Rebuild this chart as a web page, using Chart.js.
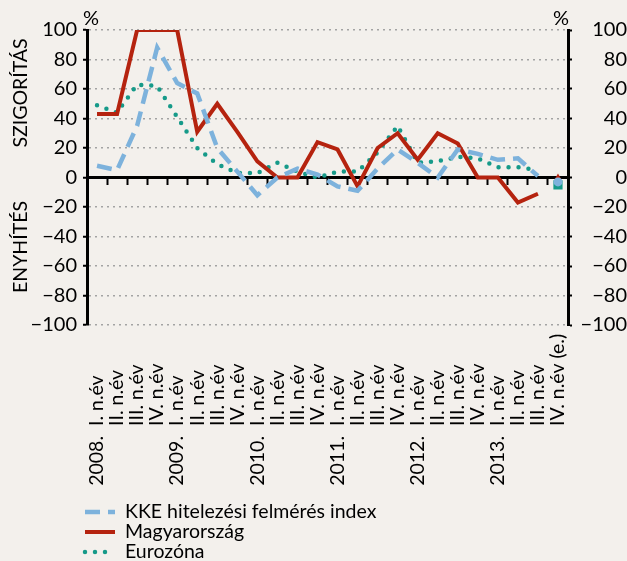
<!DOCTYPE html>
<html>
<head>
<meta charset="utf-8">
<script src="https://cdn.jsdelivr.net/npm/chart.js@4.4.1/dist/chart.umd.min.js"></script>
<style>
  html, body { margin: 0; padding: 0; background: #f3f0ec; }
  #wrap { width: 627px; height: 561px; }
</style>
</head>
<body>
<div id="wrap"><canvas id="chart" width="627" height="561"></canvas></div>
<script>
const FONT = "Lato, 'Open Sans', sans-serif";

const yearLabels = [
  '2008.', '', '', '', '2009.', '', '', '', '2010.', '', '', '',
  '2011.', '', '', '', '2012.', '', '', '', '2013.', '', '', '',
];
const quarterLabels = [
  'I. n.év', 'II. n.év', 'III. n.év', 'IV. n.év',
  'I. n.év', 'II. n.év', 'III. n.év', 'IV. n.év',
  'I. n.év', 'II. n.év', 'III. n.év', 'IV. n.év',
  'I. n.év', 'II. n.év', 'III. n.év', 'IV. n.év',
  'I. n.év', 'II. n.év', 'III. n.év', 'IV. n.év',
  'I. n.év', 'II. n.év', 'III. n.év', 'IV. n.év (e.)',
];

// last value is the estimate (drawn as a lone marker)
const kkeIndex = [8, 5, 35, 88, 64, 57, 20, 4, -12, 0, 6, 2, -6, -9, 6, 19, 10, 0, 19, 16, 12, 13, 1, -3];
const hungary = [43, 43, 100, 100, 100, 31, 50, 31, 11, 0, 0, 24, 19, -6, 20, 30, 12, 30, 23, 0, 0, -17, -11, 0];
const eurozone = [49, 44, 63, 62, 41, 20, 9, 3, 3, 10, 4, 0, 4, 4, 17, 35, 10, 11, 14, 13, 7, 7, 5, -5];

const yTickValues = [-100, -80, -60, -40, -20, 0, 20, 40, 60, 80, 100];

const blue = '#7db2dc';
const red = '#b5230f';
const teal = '#169a89';
const lastIdx = quarterLabels.length - 1;

const fmt = (v) => (v < 0 ? `\u2212${Math.abs(v)}` : `${v}`);
const onlyLast = (r) => quarterLabels.map((_, i) => (i === lastIdx ? r : 0));
const hideLastSegment = { borderColor: (c) => (c.p1DataIndex === lastIdx ? 'transparent' : undefined) };

Chart.defaults.font.family = FONT;
Chart.defaults.color = '#000';

const texts = {
  id: 'texts',
  afterDraw(chart) {
    const { ctx, chartArea, scales } = chart;
    const xs = scales.x;
    ctx.save();
    ctx.fillStyle = '#000';
    ctx.textBaseline = 'middle';

    // category labels, rotated
    ctx.font = `19.5px ${FONT}`;
    quarterLabels.forEach((q, i) => {
      const px = xs.getPixelForValue(i);
      ctx.save();
      ctx.translate(px, chartArea.bottom + 101);
      ctx.rotate(-Math.PI / 2);
      ctx.textAlign = 'left';
      ctx.fillText(q, 0, 0);
      if (yearLabels[i]) {
        ctx.textAlign = 'right';
        ctx.fillText(yearLabels[i], -10, 0);
      }
      ctx.restore();
    });

    // axis titles
    ctx.font = `19.5px ${FONT}`;
    ctx.textAlign = 'center';
    [['SZIGORÍTÁS', 93], ['ENYHÍTÉS', 247]].forEach(([t, y]) => {
      ctx.save();
      ctx.translate(21, y);
      ctx.rotate(-Math.PI / 2);
      ctx.fillText(t, 0, 0);
      ctx.restore();
    });
    ctx.font = `20px ${FONT}`;
    ctx.fillText('%', chartArea.left + 4, 19);
    ctx.fillText('%', chartArea.right - 7, 19);

    // legend
    ctx.font = `19.5px ${FONT}`;
    const rows = [512, 532, 552];
    chart.data.datasets.forEach((ds, i) => {
      const y = rows[i];
      ctx.save();
      ctx.beginPath();
      ctx.strokeStyle = ds.borderColor;
      ctx.lineWidth = ds.borderWidth;
      ctx.lineCap = ds.borderCapStyle || 'butt';
      ctx.setLineDash(ds.borderDash || []);
      ctx.moveTo(85, y);
      ctx.lineTo(i === 2 ? 110 : 115, y);
      ctx.stroke();
      ctx.restore();
      ctx.textAlign = 'left';
      ctx.fillText(ds.label, 125, y);
    });
    ctx.restore();
  },
};

new Chart(document.getElementById('chart'), {
  type: 'line',
  data: {
    labels: quarterLabels,
    datasets: [
      {
        label: 'KKE hitelezési felmérés index',
        data: kkeIndex,
        borderColor: blue,
        backgroundColor: blue,
        borderWidth: 4.5,
        borderDash: [15, 8],
        pointStyle: 'circle',
        pointRadius: onlyLast(4.5),
        pointBorderWidth: 0,
        segment: hideLastSegment,
      },
      {
        label: 'Magyarország',
        data: hungary,
        borderColor: red,
        backgroundColor: red,
        borderWidth: 4,
        pointStyle: 'triangle',
        pointRadius: onlyLast(4),
        pointBorderWidth: 0,
        segment: hideLastSegment,
      },
      {
        label: 'Eurozóna',
        data: eurozone,
        borderColor: teal,
        backgroundColor: teal,
        borderWidth: 4.5,
        borderDash: [0, 10],
        borderCapStyle: 'round',
        pointStyle: 'rect',
        pointRadius: onlyLast(6.5),
        pointBorderWidth: 0,
        segment: hideLastSegment,
      },
    ],
  },
  options: {
    responsive: false,
    animation: false,
    layout: { padding: { top: 30, bottom: 236, left: 0, right: 0 } },
    elements: { line: { tension: 0 } },
    plugins: { legend: { display: false }, tooltip: { enabled: false } },
    scales: {
      x: {
        type: 'category',
        position: { y: 0 },
        offset: true,
        grid: {
          offset: true, drawOnChartArea: false, drawTicks: true,
          tickLength: 6, tickWidth: 2, tickColor: '#000',
        },
        border: { display: true, color: '#000', width: 3 },
        ticks: { display: false },
        afterFit: (s) => { s.height = 0; },
      },
      y: {
        position: 'left',
        min: -100,
        max: 100,
        afterBuildTicks: (s) => { s.ticks = yTickValues.map((v) => ({ value: v })); },
        ticks: { callback: fmt, font: { size: 20 }, padding: 6 },
        grid: {
          color: (c) => (c.tick && c.tick.value === 0 ? 'transparent' : '#a3a3a3'),
          lineWidth: 1.5, tickColor: '#000', tickLength: 4, tickWidth: 2,
        },
        border: { color: '#000', width: 3, dash: [2, 4] },
        afterFit: (s) => { s.width = 87; },
      },
      y2: {
        position: 'right',
        min: -100,
        max: 100,
        afterBuildTicks: (s) => { s.ticks = yTickValues.map((v) => ({ value: v })); },
        ticks: { callback: fmt, font: { size: 20 }, padding: 5, crossAlign: 'far' },
        grid: { drawOnChartArea: false, tickColor: '#000', tickLength: 4, tickWidth: 2 },
        border: { color: '#000', width: 3 },
        afterFit: (s) => { s.width = 59; },
      },
    },
  },
  plugins: [texts],
});
</script>
</body>
</html>
